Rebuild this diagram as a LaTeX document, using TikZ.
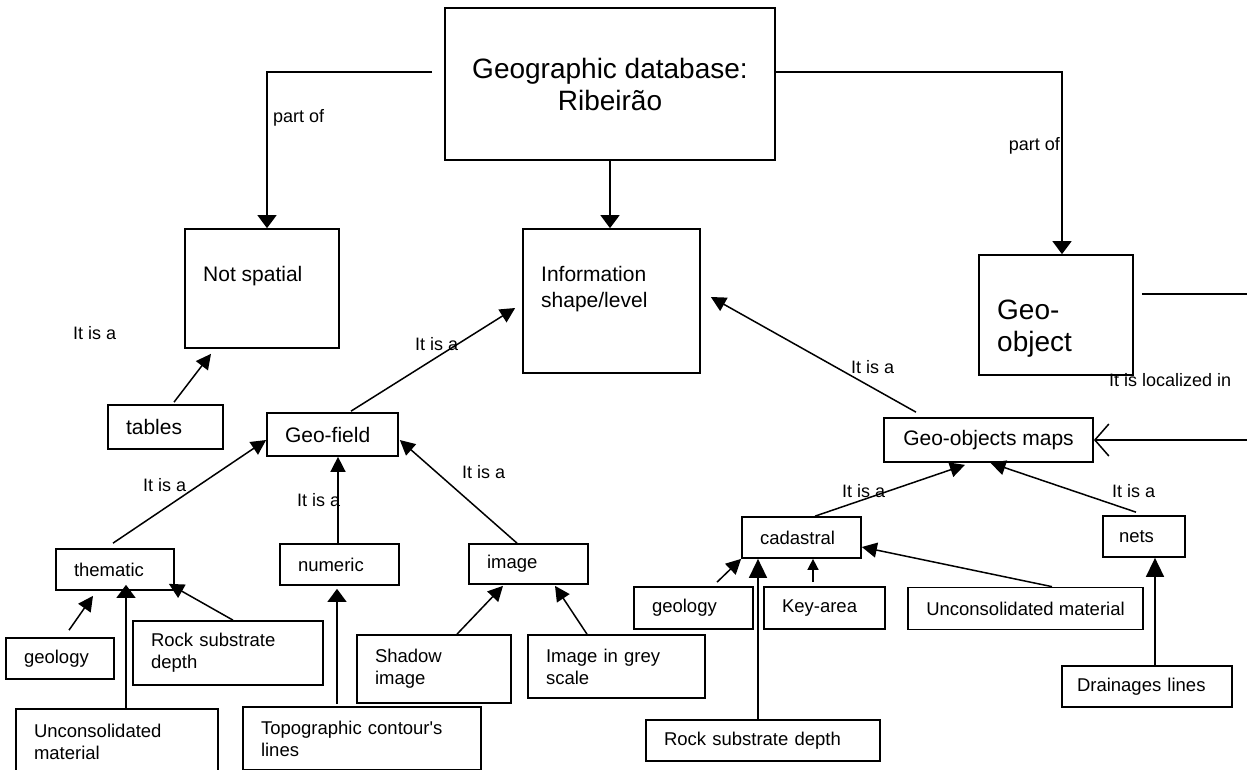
\documentclass[tikz,border=0pt]{standalone}
\usepackage{fontspec}
\setmainfont{Liberation Sans}
\usetikzlibrary{arrows.meta}

\begin{document}
\begin{tikzpicture}[x=1pt,y=-1pt,
    box/.style={draw, line width=1.7pt, inner xsep=18pt, inner ysep=0pt, align=left,
        font=\fontsize{18.5}{22}\selectfont},
    midbox/.style={box, font=\fontsize{21}{25}\selectfont},
    bigbox/.style={draw, line width=1.7pt, inner sep=0pt},
    midtxt/.style={anchor=west, inner sep=0pt, align=left, font=\fontsize{21}{26}\selectfont},
    bigtxt/.style={anchor=west, inner sep=0pt, align=left, font=\fontsize{28}{32}\selectfont},
    lbl/.style={anchor=west, inner sep=0pt, font=\fontsize{18}{21}\selectfont},
    arr/.style={line width=1.5pt, -{Triangle[length=15pt,width=15pt]}},
    bigarr/.style={line width=1.5pt, -{Triangle[length=13pt,width=19pt]}},
    tallarr/.style={line width=1.5pt, -{Triangle[length=19pt,width=18pt]}},
    smallarr/.style={line width=1.5pt, -{Triangle[length=11pt,width=11pt]}},
    openarr/.style={line width=1.5pt, -{Straight Barb[length=14pt,width=32pt]}}]
    \clip (0,0) rectangle (1247,769);

    % Top level
    \node[bigbox, minimum width=330pt, minimum height=152pt, align=center,
        font=\fontsize{28}{32}\selectfont] (db) at (610,84) {Geographic database:\\Ribeir\~ao};
    \node[bigbox, minimum width=154pt, minimum height=119pt] (notsp) at (262,288.5) {};
    \node[midtxt] (notsp-t) at (203,276) {Not spatial};
    \node[bigbox, minimum width=177pt, minimum height=144pt] (info) at (611.5,301) {};
    \node[midtxt] (info-t) at (541,289) {Information\\shape/level};
    \node[bigbox, minimum width=154pt, minimum height=120pt] (geoobj) at (1056,315) {};
    \node[bigtxt] (geoobj-t) at (997,329) {Geo-\\object};

    \draw[bigarr] ([xshift=-12,yshift=12]db.west) -| ([xshift=5]notsp.north);
    \draw[bigarr] (db.south) -- (db.south |- info.north);
    \draw[bigarr] ([yshift=12]db.east) -| ([xshift=6]geoobj.north);
    \node[lbl] (partof-l) at (273,118) {part of};
    \node[lbl, anchor=east] (partof-r) at (1060,146) {part of};

    % Not spatial side
    \node[midbox, text width=79pt, minimum height=44pt] (tables) at (165.5,427) {tables};
    \draw[arr] ([xshift=8.5,yshift=2]tables.north) -- ([xshift=-51,yshift=-5]notsp.south);
    \node[lbl] (isa-t) at (73,333) {It is a};

    % Geo-field branch
    \node[midbox, text width=95pt, minimum height=43pt] (geofield) at (332.5,434.5) {Geo-field};
    \draw[arr] ([xshift=18.5,yshift=1]geofield.north) -- ([xshift=-7,yshift=-7]info.west);
    \node[lbl] (isa-gf) at (415,344) {It is a};

    \node[box, text width=82pt, minimum height=41pt] (thematic) at (115,569.5) {thematic};
    \node[box, text width=83pt, minimum height=41pt] (numeric) at (339.5,564.5) {numeric};
    \node[box, text width=83pt, minimum height=40pt] (image) at (528.5,564) {image};
    \draw[arr] ([xshift=-2,yshift=5]thematic.north) -- ([yshift=-5.5]geofield.west);
    \draw[arr] ([xshift=-1.5]numeric.north) -- ([xshift=-1.5]numeric.north |- geofield.south);
    \draw[arr] ([xshift=-11.5]image.north) -- ([xshift=1,yshift=-5.5]geofield.east);
    \node[lbl] (isa-th) at (143,485) {It is a};
    \node[lbl] (isa-nu) at (297,500) {It is a};
    \node[lbl] (isa-im) at (462,472) {It is a};

    \node[box, text width=72pt, minimum height=41pt] (geol1) at (60,658.5) {geology};
    \node[box, text width=154pt, minimum height=64pt] (rock1) at (228,653) {Rock substrate\\depth};
    \node[box, text width=166pt, minimum height=65pt] (uncons1) at (117,741.5) {Unconsolidated\\material};
    \node[box, text width=202pt, minimum height=63pt] (topo) at (362,738.5) {Topographic contour\textquotesingle s\\lines};
    \node[box, text width=118pt, minimum height=68pt] (shadow) at (434,669) {Shadow\\image};
    \node[box, text width=141pt, minimum height=63pt] (greyimg) at (616.5,666.5) {Image in grey\\scale};
    \draw[arr] ([xshift=9,yshift=7]geol1.north) -- ([xshift=-22,yshift=-5]thematic.south);
    \draw[arr] ([xshift=5]rock1.north) -- ([xshift=-6,yshift=7]thematic.south east);
    \draw[bigarr] ([xshift=9]uncons1.north) -- ([xshift=11,yshift=6]thematic.south);
    \draw[bigarr] ([xshift=-25,yshift=2]topo.north) -- ([xshift=-2.5,yshift=-3]numeric.south);
    \draw[arr] ([xshift=23]shadow.north) -- ([xshift=-25.5,yshift=-1]image.south);
    \draw[arr] ([xshift=-29.5]greyimg.north) -- ([xshift=26.5,yshift=-1]image.south);

    % Geo-object branch
    \node[midbox, inner xsep=0pt, align=center, minimum width=209pt, minimum height=44pt]
        (geomaps) at (988.5,440) {Geo-objects maps};
    \draw[arr] ([xshift=-72.5,yshift=5]geomaps.north) -- ([xshift=10,yshift=4]info.east);
    \node[lbl] (isa-gm) at (851,367) {It is a};

    \coordinate (objout) at (1247,294);
    \coordinate (mapsin) at (1247,440);
    \draw[line width=1.5pt] ([xshift=8,yshift=21]geoobj.east) -- (objout);
    \draw[openarr] (mapsin) -- (geomaps.east);
    \node[lbl] (loc) at (1109,380) {It is localized in};

    \node[box, text width=83pt, minimum height=41pt] (cadastral) at (801.5,537.5) {cadastral};
    \node[box, inner xsep=16pt, text width=50pt, minimum height=41pt] (nets) at (1144,536.5) {nets};
    \draw[arr] ([xshift=13.5]cadastral.north) -- ([xshift=-23.5,yshift=-2]geomaps.south);
    \draw[arr] ([xshift=-8,yshift=3]nets.north) -- ([xshift=2]geomaps.south);
    \node[lbl] (isa-ca) at (842,491) {It is a};
    \node[lbl] (isa-ne) at (1112,491) {It is a};

    \node[box, text width=83pt, minimum height=42pt] (geol2) at (693.5,608) {geology};
    \node[box, text width=85pt, minimum height=42pt] (keyarea) at (824.5,608) {Key-area};
    \node[box, inner xsep=0pt, align=center, minimum width=235pt, minimum height=42pt]
        (uncons2) at (1025.5,608.5) {Unconsolidated material};
    \node[box, text width=198pt, minimum height=41pt] (rock2) at (763,740.5) {Rock substrate depth};
    \node[box, inner xsep=15pt, text width=140pt, minimum height=41pt] (drain) at (1147,686.5) {Drainages lines};
    \draw[arr] ([xshift=23.5,yshift=4]geol2.north) -- (cadastral.south west);
    \draw[smallarr] ([xshift=-11.5,yshift=4]keyarea.north) -- ([xshift=11.5]cadastral.south);
    \draw[tallarr] ([xshift=-5]rock2.north) -- ([xshift=-5]rock2.north |- cadastral.south);
    \draw[arr] ([xshift=26.5]uncons2.north) -- ([yshift=-9.5]cadastral.east);
    \draw[tallarr] ([xshift=8]drain.north) -- ([xshift=8]drain.north |- nets.south);

\end{tikzpicture}
\end{document}
